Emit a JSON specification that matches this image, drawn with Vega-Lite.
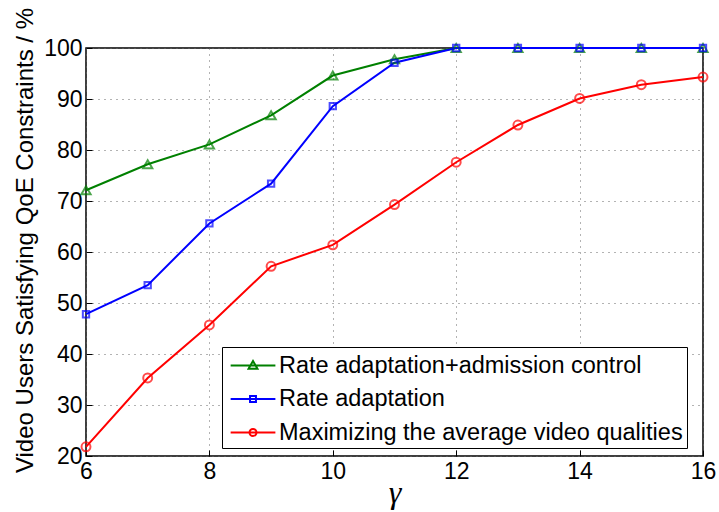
{
  "$schema": "https://vega.github.io/schema/vega-lite/v6.json",
  "width": 617,
  "height": 408,
  "autosize": {"type": "none"},
  "padding": {"left": 86, "top": 48, "right": 16, "bottom": 56},
  "background": "white",
  "config": {
    "font": "Liberation Sans",
    "view": {"stroke": "black", "strokeWidth": 1.5},
    "axis": {
      "domain": false,
      "grid": true,
      "gridColor": "#666666",
      "gridDash": [1, 5],
      "gridWidth": 1,
      "ticks": true,
      "tickColor": "black",
      "tickSize": -6,
      "labelFont": "Liberation Sans",
      "labelFontSize": 23,
      "labelColor": "black",
      "titleColor": "black",
      "titleFontWeight": "normal"
    },
    "legend": {
      "labelFont": "Liberation Sans",
      "labelFontSize": 23.5,
      "labelColor": "black"
    }
  },
  "data": {
    "values": [
      {"g": 6, "v": 72.1, "s": "Rate adaptation+admission control"},
      {"g": 7, "v": 77.2, "s": "Rate adaptation+admission control"},
      {"g": 8, "v": 81.1, "s": "Rate adaptation+admission control"},
      {"g": 9, "v": 86.8, "s": "Rate adaptation+admission control"},
      {"g": 10, "v": 94.6, "s": "Rate adaptation+admission control"},
      {"g": 11, "v": 97.8, "s": "Rate adaptation+admission control"},
      {"g": 12, "v": 100, "s": "Rate adaptation+admission control"},
      {"g": 13, "v": 100, "s": "Rate adaptation+admission control"},
      {"g": 14, "v": 100, "s": "Rate adaptation+admission control"},
      {"g": 15, "v": 100, "s": "Rate adaptation+admission control"},
      {"g": 16, "v": 100, "s": "Rate adaptation+admission control"},
      {"g": 6, "v": 47.8, "s": "Rate adaptation"},
      {"g": 7, "v": 53.5, "s": "Rate adaptation"},
      {"g": 8, "v": 65.6, "s": "Rate adaptation"},
      {"g": 9, "v": 73.4, "s": "Rate adaptation"},
      {"g": 10, "v": 88.6, "s": "Rate adaptation"},
      {"g": 11, "v": 97.1, "s": "Rate adaptation"},
      {"g": 12, "v": 100, "s": "Rate adaptation"},
      {"g": 13, "v": 100, "s": "Rate adaptation"},
      {"g": 14, "v": 100, "s": "Rate adaptation"},
      {"g": 15, "v": 100, "s": "Rate adaptation"},
      {"g": 16, "v": 100, "s": "Rate adaptation"},
      {"g": 6, "v": 21.8, "s": "Maximizing the average video qualities"},
      {"g": 7, "v": 35.3, "s": "Maximizing the average video qualities"},
      {"g": 8, "v": 45.7, "s": "Maximizing the average video qualities"},
      {"g": 9, "v": 57.2, "s": "Maximizing the average video qualities"},
      {"g": 10, "v": 61.4, "s": "Maximizing the average video qualities"},
      {"g": 11, "v": 69.3, "s": "Maximizing the average video qualities"},
      {"g": 12, "v": 77.6, "s": "Maximizing the average video qualities"},
      {"g": 13, "v": 84.9, "s": "Maximizing the average video qualities"},
      {"g": 14, "v": 90.1, "s": "Maximizing the average video qualities"},
      {"g": 15, "v": 92.8, "s": "Maximizing the average video qualities"},
      {"g": 16, "v": 94.3, "s": "Maximizing the average video qualities"}
    ]
  },
  "encoding": {
    "x": {
      "field": "g", "type": "quantitative",
      "scale": {"domain": [6, 16], "nice": false, "zero": false},
      "axis": {"values": [6, 8, 10, 12, 14, 16], "title": "γ", "titleFont": "Liberation Serif", "titleFontStyle": "italic", "titleFontSize": 32, "titlePadding": -6, "labelPadding": 10, "labelFlush": false}
    },
    "y": {
      "field": "v", "type": "quantitative",
      "scale": {"domain": [20, 100], "nice": false, "zero": false},
      "axis": {"values": [20, 30, 40, 50, 60, 70, 80, 90, 100], "title": "Video Users Satisfying QoE Constraints / %", "titleFontSize": 24, "titleX": -54, "titleY": 192, "titleAngle": -90, "titleAlign": "center", "titleBaseline": "alphabetic", "labelPadding": 10, "labelFlush": false}
    },
    "color": {
      "field": "s", "type": "nominal",
      "scale": {
        "domain": ["Rate adaptation+admission control", "Rate adaptation", "Maximizing the average video qualities"],
        "range": ["#008000", "#0000ff", "#ff0000"]
      },
      "legend": {
        "title": null,
        "orient": "none",
        "legendX": 136,
        "legendY": 299,
        "fillColor": "white",
        "strokeColor": "black",
        "padding": 4,
        "symbolSize": 729,
        "symbolStrokeWidth": 2,
        "symbolOpacity": 1,
        "symbolFillColor": "transparent",
        "symbolType": {"expr": "datum.value == 'Rate adaptation' ? 'M-0.73,0H2.585M0.706,-0.22H1.146V0.22H0.706Z' : datum.value == 'Rate adaptation+admission control' ? 'M-0.73,0H2.585M0.596,0.24L0.926,-0.33L1.256,0.24Z' : 'M-0.73,0H2.585M0.666,0A0.26,0.26,0,1,1,1.186,0A0.26,0.26,0,1,1,0.666,0'"},
        "labelOffset": 24,
        "labelLimit": 0,
        "rowPadding": 7.5
      }
    }
  },
  "layer": [
    {
      "mark": {"type": "line", "strokeWidth": 2},
      "encoding": {}
    },
    {
      "transform": [{"filter": "datum.s == 'Rate adaptation+admission control'"}],
      "mark": {"type": "point", "shape": "triangle-up", "size": 85, "filled": false, "strokeWidth": 2},
      "encoding": {}
    },
    {
      "transform": [{"filter": "datum.s == 'Rate adaptation'"}],
      "mark": {"type": "point", "shape": "square", "size": 40, "filled": false, "strokeWidth": 2},
      "encoding": {}
    },
    {
      "transform": [{"filter": "datum.s == 'Maximizing the average video qualities'"}],
      "mark": {"type": "point", "shape": "circle", "size": 80, "filled": false, "strokeWidth": 2},
      "encoding": {}
    }
  ]
}
